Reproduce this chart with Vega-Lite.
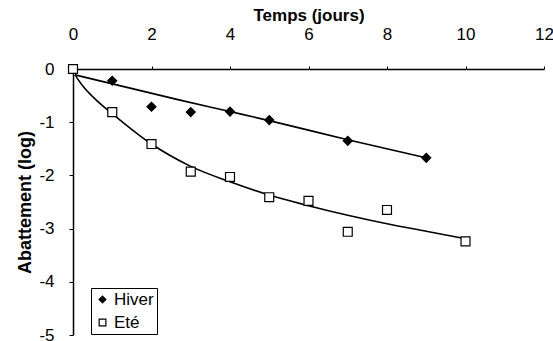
{
  "$schema": "https://vega.github.io/schema/vega-lite/v6.json",
  "width": 471,
  "height": 266,
  "autosize": {"type": "none"},
  "padding": {"left": 73, "top": 69, "right": 9, "bottom": 6},
  "background": "white",
  "config": {
    "view": {"stroke": null},
    "font": "Liberation Sans",
    "axis": {"grid": false, "domainColor": "black", "tickColor": "black", "labelColor": "black", "titleColor": "black", "labelFont": "Liberation Sans", "titleFont": "Liberation Sans", "domainWidth": 1.5, "tickWidth": 1}
  },
  "datasets": {
    "obs": [
      {"serie": "Hiver", "jours": 0, "abattement": 0},
      {"serie": "Hiver", "jours": 1, "abattement": -0.22},
      {"serie": "Hiver", "jours": 2, "abattement": -0.71},
      {"serie": "Hiver", "jours": 3, "abattement": -0.81},
      {"serie": "Hiver", "jours": 4, "abattement": -0.8},
      {"serie": "Hiver", "jours": 5, "abattement": -0.96},
      {"serie": "Hiver", "jours": 7, "abattement": -1.35},
      {"serie": "Hiver", "jours": 9, "abattement": -1.67},
      {"serie": "Eté", "jours": 0, "abattement": 0},
      {"serie": "Eté", "jours": 1, "abattement": -0.81},
      {"serie": "Eté", "jours": 2, "abattement": -1.41},
      {"serie": "Eté", "jours": 3, "abattement": -1.93},
      {"serie": "Eté", "jours": 4, "abattement": -2.03},
      {"serie": "Eté", "jours": 5, "abattement": -2.41},
      {"serie": "Eté", "jours": 6, "abattement": -2.48},
      {"serie": "Eté", "jours": 7, "abattement": -3.06},
      {"serie": "Eté", "jours": 8, "abattement": -2.65},
      {"serie": "Eté", "jours": 10, "abattement": -3.24}
    ],
    "fit": [
      {"serie": "Hiver", "jours": 0.05, "abattement": -0.11},
      {"serie": "Hiver", "jours": 2.7, "abattement": -0.58},
      {"serie": "Hiver", "jours": 4, "abattement": -0.8},
      {"serie": "Hiver", "jours": 5, "abattement": -0.97},
      {"serie": "Hiver", "jours": 7, "abattement": -1.33},
      {"serie": "Hiver", "jours": 9, "abattement": -1.67},
      {"serie": "Eté", "jours": 0.05, "abattement": -0.11},
      {"serie": "Eté", "jours": 0.25, "abattement": -0.32},
      {"serie": "Eté", "jours": 0.5, "abattement": -0.52},
      {"serie": "Eté", "jours": 0.75, "abattement": -0.69},
      {"serie": "Eté", "jours": 1, "abattement": -0.84},
      {"serie": "Eté", "jours": 2, "abattement": -1.41},
      {"serie": "Eté", "jours": 3, "abattement": -1.83},
      {"serie": "Eté", "jours": 4, "abattement": -2.12},
      {"serie": "Eté", "jours": 5, "abattement": -2.37},
      {"serie": "Eté", "jours": 6, "abattement": -2.57},
      {"serie": "Eté", "jours": 7, "abattement": -2.75},
      {"serie": "Eté", "jours": 8, "abattement": -2.91},
      {"serie": "Eté", "jours": 9, "abattement": -3.05},
      {"serie": "Eté", "jours": 10, "abattement": -3.19}
    ]
  },
  "encoding": {
    "x": {
      "field": "jours", "type": "quantitative",
      "scale": {"domain": [0, 12], "nice": false, "zero": false},
      "axis": {"orient": "top", "values": [0, 2, 4, 6, 8, 10, 12], "title": "Temps (jours)", "titleFontSize": 17, "titleFontWeight": "bold", "labelFontSize": 17, "labelPadding": 23, "tickSize": 3, "titlePadding": 1, "labelFlush": false}
    },
    "y": {
      "field": "abattement", "type": "quantitative",
      "scale": {"domain": [-5, 0], "nice": false},
      "axis": {"values": [-5, -4, -3, -2, -1, 0], "title": "Abattement (log)", "titleFontSize": 18, "titleFontWeight": "bold", "labelFontSize": 17, "labelPadding": 15, "tickSize": 4, "labelExpr": "'' + datum.value", "titlePadding": 4, "labelFlush": false}
    }
  },
  "layer": [
    {
      "data": {"name": "fit"},
      "mark": {"type": "line", "color": "black", "strokeWidth": 1.6, "interpolate": "monotone"},
      "encoding": {"detail": {"field": "serie"}}
    },
    {
      "data": {"name": "obs"},
      "mark": {"type": "point", "stroke": "black", "strokeWidth": 1.2, "opacity": 1},
      "encoding": {
        "shape": {"field": "serie", "type": "nominal", "scale": {"domain": ["Hiver", "Eté"], "range": ["diamond", "square"]}, "legend": {"title": null, "orient": "none", "legendX": 18, "legendY": 219, "strokeColor": "black", "fillColor": "white", "padding": 3, "labelFontSize": 17, "labelFont": "Liberation Sans", "labelColor": "black", "symbolSize": 45, "symbolStrokeWidth": 1.2, "labelOffset": 3, "rowPadding": 5}},
        "fill": {"field": "serie", "type": "nominal", "scale": {"domain": ["Hiver", "Eté"], "range": ["black", "white"]}, "legend": {"title": null, "orient": "none", "legendX": 18, "legendY": 219, "strokeColor": "black", "fillColor": "white", "padding": 3, "labelFontSize": 17, "labelFont": "Liberation Sans", "labelColor": "black", "symbolSize": 45, "symbolStrokeWidth": 1.2, "labelOffset": 3, "rowPadding": 5}},
        "size": {"value": 80}
      }
    }
  ]
}
